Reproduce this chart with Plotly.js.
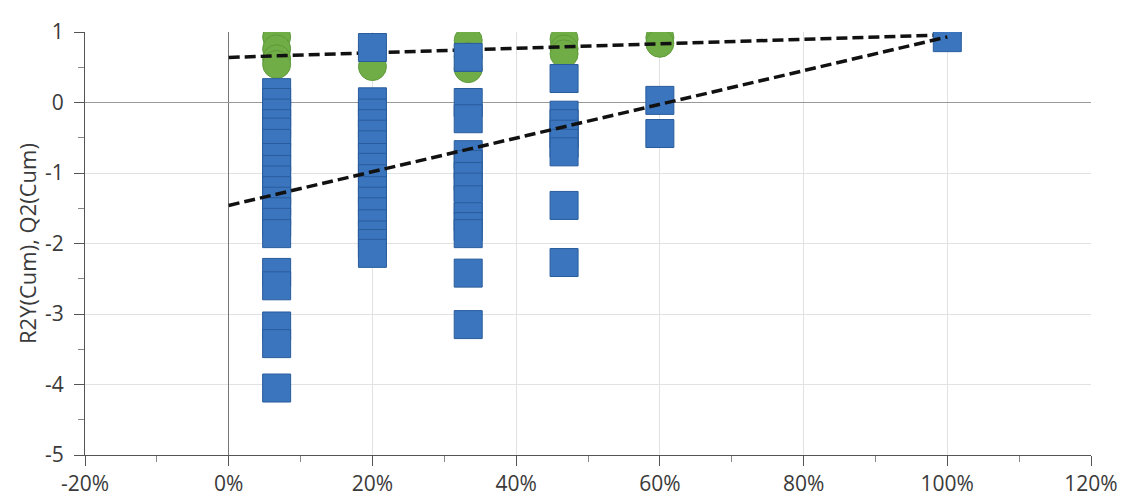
<!DOCTYPE html>
<html>
<head>
<meta charset="utf-8">
<script src="https://cdn.plot.ly/plotly-3.0.1.min.js"></script>
<style>html,body{margin:0;padding:0;background:#fff;}#chart{width:1133px;height:499px;}</style>
</head>
<body>
<div id="chart"></div>
<script>
// Correlation coefficient between permuted and original Y (x positions of permutation columns)
const corrCols = [0.0667, 0.2, 0.3333, 0.4667, 0.6, 1.0];
// R2Y(cum) values per column (green circles)
const r2Cols = [
  [0.93, 0.76, 0.62, 0.54],
  [0.78, 0.69, 0.51],
  [0.88, 0.65, 0.48],
  [0.9, 0.76, 0.69],
  [0.92, 0.84],
  [0.97]
];
// Q2(cum) values per column (blue squares)
const q2Cols = [
  [0.14, 0.0, -0.15, -0.3, -0.42, -0.58, -0.78, -0.95, -1.1, -1.25, -1.4, -1.55, -1.7, -1.86, -2.41, -2.6, -3.17, -3.42, -4.05],
  [0.78, 0.01, -0.15, -0.3, -0.45, -0.6, -0.78, -0.92, -1.08, -1.25, -1.4, -1.55, -1.72, -1.88, -2.0, -2.14],
  [0.64, 0.0, -0.23, -0.74, -0.88, -1.05, -1.2, -1.38, -1.62, -1.76, -1.86, -2.42, -3.15],
  [0.34, -0.18, -0.3, -0.45, -0.58, -0.7, -1.46, -2.27],
  [0.03, -0.44],
  [0.92]
];
// Regression lines: [intercept at x=0, value at x=1]
const lineX = [0, 1];
const r2Line = [0.64, 0.96];
const q2Line = [-1.46, 0.93];
// Tick labels
const xTickVals = [-0.2, 0, 0.2, 0.4, 0.6, 0.8, 1.0, 1.2];
const xTickText = ['-20%', '0%', '20%', '40%', '60%', '80%', '100%', '120%'];
const yTickVals = [-5, -4, -3, -2, -1, 0, 1];
const yTickText = ['-5', '-4', '-3', '-2', '-1', '0', '1'];

function flatten(cols) {
  const xs = [], ys = [];
  cols.forEach((col, i) => col.forEach(v => { xs.push(corrCols[i]); ys.push(v); }));
  return {xs, ys};
}
const r2 = flatten(r2Cols);
const q2 = flatten(q2Cols);

const traces = [
  {x: r2.xs, y: r2.ys, type: 'scatter', mode: 'markers', name: 'R2',
   marker: {symbol: 'circle', size: 28, color: '#70ad47', line: {color: '#5e9a3a', width: 1}}},
  {x: lineX, y: r2Line, type: 'scatter', mode: 'lines', name: 'R2 line',
   line: {color: '#111', width: 3.5, dash: '11px,5px'}},
  {x: q2.xs, y: q2.ys, type: 'scatter', mode: 'markers', name: 'Q2',
   marker: {symbol: 'square', size: 28, color: '#3a75be', line: {color: '#2a5c9c', width: 1}}},
  {x: lineX, y: q2Line, type: 'scatter', mode: 'lines', name: 'Q2 line',
   line: {color: '#111', width: 3.5, dash: '11px,5px'}}
];

const fam = 'Open Sans, Noto Sans, sans-serif';
const tickFont = {family: fam, size: 21, color: '#3a3a3a'};

const layout = {
  width: 1133, height: 499,
  margin: {l: 85, r: 42, t: 32, b: 44},
  paper_bgcolor: '#fff', plot_bgcolor: '#fff',
  showlegend: false,
  xaxis: {
    range: [-0.2, 1.2], tickmode: 'array', tickvals: xTickVals, ticktext: xTickText,
    showgrid: true, gridcolor: '#e2e2e2', gridwidth: 1,
    zeroline: true, zerolinecolor: '#777', zerolinewidth: 1,
    showline: true, linecolor: '#555', linewidth: 1,
    ticks: 'outside', ticklen: 10, tickcolor: '#555',
    minor: {dtick: 0.1, ticklen: 6, tickcolor: '#888', showgrid: false},
    tickfont: tickFont, ticklabelstandoff: 0, automargin: false
  },
  yaxis: {
    range: [-5, 1], tickmode: 'array', tickvals: yTickVals, ticktext: yTickText,
    showgrid: true, gridcolor: '#e2e2e2', gridwidth: 1,
    zeroline: true, zerolinecolor: '#999', zerolinewidth: 1.5,
    showline: true, linecolor: '#555', linewidth: 1,
    ticks: 'outside', ticklen: 10, tickcolor: '#555',
    minor: {dtick: 0.5, ticklen: 6, tickcolor: '#888', showgrid: false},
    tickfont: tickFont, ticklabelstandoff: 6, automargin: false,
    title: {text: 'R2Y(Cum), Q2(Cum)', font: {family: fam, size: 22, color: '#3a3a3a'}, standoff: 2}
  }
};

Plotly.newPlot('chart', traces, layout, {displayModeBar: false, staticPlot: true});
</script>
</body>
</html>
